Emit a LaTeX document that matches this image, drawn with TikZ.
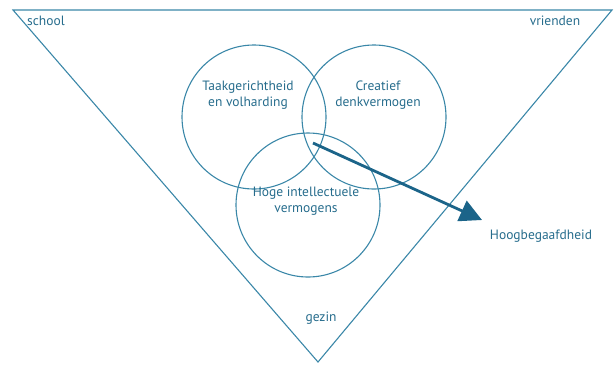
\documentclass[tikz,border=0pt]{standalone}
\usepackage{fontspec}
\setmainfont{PT Sans}
\usetikzlibrary{arrows.meta, positioning}
\definecolor{lijn}{HTML}{3A87A8}
\definecolor{letter}{HTML}{266C8C}
\definecolor{pijl}{HTML}{1B6489}
\tikzstyle{kring} = [circle, draw=lijn, line width=1.1pt, minimum size=144pt, inner sep=0pt]
\tikzstyle{tekst} = [text=letter, font=\fontsize{13.5}{16}\selectfont, align=center, inner sep=0pt]
\tikzstyle{arrow} = [line width=2.8pt, draw=pijl, -{Triangle[length=22pt, width=22pt]}]

\begin{document}
\begin{tikzpicture}[x=1pt, y=-1pt]
	\useasboundingbox (0,0) rectangle (615,365);

	% driehoek
	\coordinate (lb) at (13,10);
	\coordinate (rb) at (612,10);
	\coordinate (onder) at (318,362);
	\draw [lijn, line width=1.1pt] (lb) -- (rb) -- (onder) -- cycle;

	\node (school) [tekst] at (46,21) {school};
	\node (vrienden) [tekst] at (555,21) {vrienden};
	\node (gezin) [tekst] at (321,318) {gezin};

	% kringen
	\node (taak) [kring] at (254,117) {};
	\node (creatief) [kring] at (374,117) {};
	\node (hoge) [kring] at (308,205) {};

	\node (taaktekst) [tekst] at (248,95) {Taakgerichtheid\\en volharding};
	\node (creatieftekst) [tekst] at (378,95) {Creatief\\denkvermogen};
	\node (hogetekst) [tekst] at (306,201) {Hoge intellectuele\\vermogens};

	\coordinate (start) at (313,143);
	\node (hoogbegaafd) [tekst] at (541,236) {Hoogbegaafdheid};
	\coordinate (punt) at (482,220);

	\draw [arrow] (start) -- (punt);

\end{tikzpicture}
\end{document}
